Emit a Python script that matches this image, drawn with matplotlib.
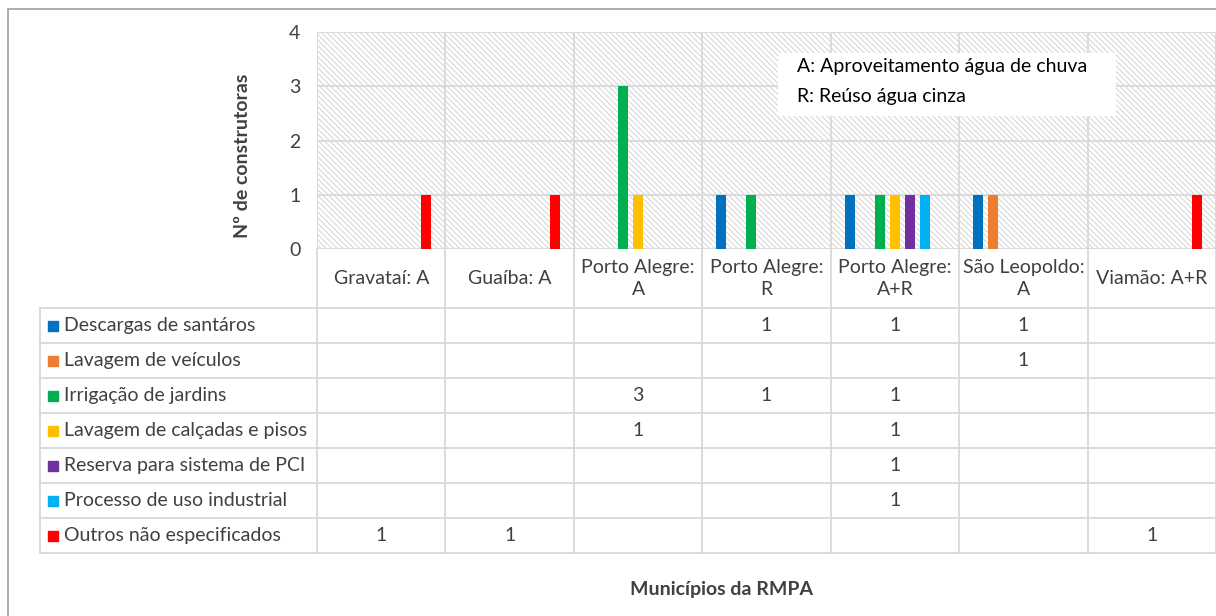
import numpy as np
import matplotlib.pyplot as plt
from matplotlib.patches import Rectangle

plt.rcParams['font.family'] = ['Lato', 'DejaVu Sans']
plt.rcParams['hatch.color'] = '#d3d3d3'
plt.rcParams['hatch.linewidth'] = 0.7

# dados: usos da água por município (construtoras)
municipios = ['Gravataí: A', 'Guaíba: A', 'Porto Alegre:\nA', 'Porto Alegre:\nR',
              'Porto Alegre:\nA+R', 'São Leopoldo:\nA', 'Viamão: A+R']
usos = ['Descargas de santáros', 'Lavagem de veículos', 'Irrigação de jardins',
        'Lavagem de calçadas e pisos', 'Reserva para sistema de PCI',
        'Processo de uso industrial', 'Outros não especificados']
nan = np.nan
descargas = [nan, nan, nan, 1, 1, 1, nan]
lav_veiculos = [nan, nan, nan, nan, nan, 1, nan]
irrigacao = [nan, nan, 3, 1, 1, nan, nan]
lav_calcadas = [nan, nan, 1, nan, 1, nan, nan]
reserva_pci = [nan, nan, nan, nan, 1, nan, nan]
industrial = [nan, nan, nan, nan, 1, nan, nan]
outros = [1, 1, nan, nan, nan, nan, 1]
cores = ['#0070C0', '#ED7D31', '#00B050', '#FFC000', '#7030A0', '#00B0F0', '#FF0000']

series = [descargas, lav_veiculos, irrigacao, lav_calcadas, reserva_pci, industrial, outros]

W, H = 1216, 616
fig = plt.figure(figsize=(W / 100, H / 100), dpi=100)
txt = '#404040'
grid = '#d9d9d9'
fs = 14

# moldura externa do gráfico
fig.add_artist(Rectangle((8 / W, -0.1), 1.2, 1 - 9 / H + 0.1, transform=fig.transFigure,
                         fill=False, edgecolor='#a6a6a6', linewidth=1.3))

# --- área do gráfico de colunas
ax = fig.add_axes([317 / W, 1 - 249 / H, 899 / W, 217 / H])
ax.add_patch(Rectangle((0, 0), 1, 1, transform=ax.transAxes, facecolor='white',
                       edgecolor='#d3d3d3', hatch='\\' * 6, linewidth=0, zorder=0))
n = len(municipios)
x = np.arange(n)
step = 15 / 128.4
larg = 10 / 128.4
for i, (vals, c) in enumerate(zip(series, cores)):
    ax.bar(x + 0.5 + (i - 3) * step, vals, width=larg, color=c, zorder=3)

ax.set_xlim(0, n)
ax.set_ylim(0, 4)
ax.set_yticks(range(5))
ax.set_xticks([])
ax.set_xticks(range(n + 1), minor=True)
ax.tick_params(which='both', length=0)
ax.tick_params(axis='y', labelsize=14, labelcolor=txt, pad=12)
ax.grid(axis='y', color=grid, linewidth=1.3, zorder=1)
ax.grid(axis='x', which='minor', color=grid, linewidth=1.3, zorder=1)
for s in ax.spines.values():
    s.set_visible(False)

# legenda das siglas
ax.add_patch(Rectangle((0.513, 0.613), 0.376, 0.29, transform=ax.transAxes,
                       facecolor='white', edgecolor='none', zorder=4))
ax.text(0.534, 0.843, 'A: Aproveitamento água de chuva', transform=ax.transAxes,
        va='center', ha='left', fontsize=fs, color='black', zorder=5)
ax.text(0.534, 0.705, 'R: Reúso água cinza', transform=ax.transAxes,
        va='center', ha='left', fontsize=fs, color='black', zorder=5)

# --- tabela de dados abaixo do gráfico
tb = fig.add_axes([40 / W, 1 - 553 / H, 1176 / W, 304 / H])
x0 = -277 / 128.4
hdr = -59 / 35
tb.set_xlim(x0, n)
tb.set_ylim(len(usos), hdr)
tb.axis('off')

for r in range(len(usos) + 1):
    tb.plot([x0, n], [r, r], color=grid, linewidth=1.3, clip_on=False)
for k in range(n + 1):
    tb.plot([k, k], [hdr, len(usos)], color=grid, linewidth=1.3, clip_on=False)
tb.plot([x0, x0], [0, len(usos)], color=grid, linewidth=1.3, clip_on=False)

for k, nome in enumerate(municipios):
    tb.text(k + 0.5, hdr / 2, nome, ha='center', va='center', fontsize=fs,
            color=txt, linespacing=1.4)

for r, (uso, vals, c) in enumerate(zip(usos, series, cores)):
    tb.plot([x0 + 13 / 128.4], [r + 0.5], marker='s', markersize=7.5, color=c,
            linestyle='none', clip_on=False)
    tb.text(x0 + 24 / 128.4, r + 0.5, uso, ha='left', va='center', fontsize=fs, color=txt)
    for k, v in enumerate(vals):
        if not np.isnan(v):
            tb.text(k + 0.5, r + 0.5, f'{v:g}', ha='center', va='center',
                    fontsize=fs, color=txt)

fig.text(243 / W, 1 - 156 / H, 'Nº de construtoras', rotation=90, ha='center',
         va='center', fontsize=fs, fontweight='bold', color=txt)
fig.text(722 / W, 1 - 589 / H, 'Municípios da RMPA', ha='center', va='center',
         fontsize=fs, fontweight='bold', color=txt)

fig.savefig('out.png', dpi=100)
